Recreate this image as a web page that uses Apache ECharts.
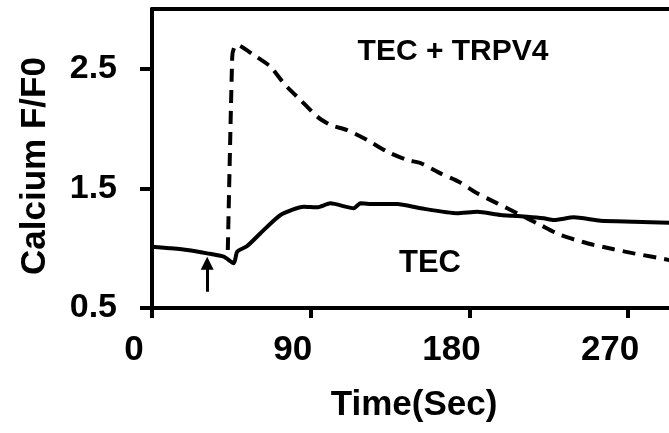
<!DOCTYPE html>
<html>
<head>
<meta charset="utf-8">
<script src="https://cdn.jsdelivr.net/npm/echarts@6/dist/echarts.min.js"></script>
<style>html,body{margin:0;padding:0;background:#fff}#c{width:669px;height:433px}</style>
</head>
<body>
<div id="c"></div>
<script>
// Time (s) and Calcium F/F0 for the TEC trace (solid)
var tecTime = [0, 10, 20, 31.3, 40.7, 46.4, 48.3, 54.0, 61.5, 72.9, 86.1, 93.7, 101.2, 114.4, 118.2, 125.8, 139.1, 152.3, 173.1, 184.4, 197.6, 212.8, 222.2, 227.9, 239.2, 254.3, 273.2, 293.5];
var tecValue = [1.013, 1.0, 0.985, 0.957, 0.929, 0.874, 0.971, 1.018, 1.125, 1.278, 1.347, 1.342, 1.375, 1.334, 1.375, 1.370, 1.370, 1.334, 1.292, 1.305, 1.278, 1.263, 1.250, 1.236, 1.258, 1.230, 1.222, 1.213];
// Time (s) and Calcium F/F0 for the TEC + TRPV4 trace (dashed)
var trpTime = [43.0, 45.5, 46.5, 48.3, 57.7, 67.2, 74.7, 84.2, 93.7, 101.2, 110.7, 122.0, 133.4, 144.7, 152.3, 163.6, 174.0, 184.4, 195.8, 207.1, 220.3, 231.7, 246.8, 261.9, 273.2, 293.5];
var trpValue = [0.985, 2.601, 2.674, 2.699, 2.615, 2.518, 2.379, 2.239, 2.100, 2.030, 1.988, 1.905, 1.807, 1.737, 1.712, 1.626, 1.556, 1.459, 1.375, 1.292, 1.194, 1.110, 1.041, 0.991, 0.957, 0.901];
var xTicks = [0, 90, 180, 270];
var yTicks = [0.5, 1.5, 2.5];
// Stimulus arrow (time, from, to)
var arrowTime = 31.3, arrowFrom = 0.636, arrowTo = 0.874;

function zip(a, b) { return a.map(function (v, i) { return [v, b[i]]; }); }

var FONT = 'Liberation Sans, Arial, sans-serif';
var chart = echarts.init(document.getElementById('c'), null, {renderer: 'canvas'});
chart.setOption({
  animation: false,
  backgroundColor: '#fff',
  grid: {left: 152, top: 9, right: 0, height: 299, containLabel: false},
  xAxis: [{
    type: 'value', min: 0, max: 293.2, interval: 90,
    axisLine: {show: true, lineStyle: {color: '#000', width: 4}},
    axisTick: {show: true, customValues: xTicks, length: 10, lineStyle: {color: '#000', width: 4}},
    axisLabel: {customValues: xTicks, color: '#000', fontFamily: FONT, fontWeight: 'bold', fontSize: 35, margin: 25, padding: [0, 36, 0, 0]},
    splitLine: {show: false}
  }, {
    type: 'value', position: 'top', min: 0, max: 293.2,
    axisLine: {show: true, lineStyle: {color: '#000', width: 4}},
    axisTick: {show: false}, axisLabel: {show: false}, splitLine: {show: false}
  }],
  yAxis: {
    type: 'value', min: 0.5, max: 3.0,
    axisLine: {show: true, lineStyle: {color: '#000', width: 4}},
    axisTick: {show: true, customValues: yTicks, length: 12, lineStyle: {color: '#000', width: 4}},
    axisLabel: {customValues: yTicks, color: '#000', fontFamily: FONT, fontWeight: 'bold', fontSize: 34, margin: 35, formatter: function (v) { return v.toFixed(1); }},
    splitLine: {show: false}
  },
  series: [
    {
      name: 'TEC', type: 'line', data: zip(tecTime, tecValue), symbol: 'none', smooth: 0.2,
      lineStyle: {color: '#000', width: 4}, z: 3,
      markLine: {
        silent: true, symbol: ['none', 'triangle'], symbolSize: [13, 13],
        lineStyle: {color: '#000', width: 3, type: 'solid'}, label: {show: false},
        data: [[{coord: [arrowTime, arrowFrom]}, {coord: [arrowTime, arrowTo]}]]
      }
    },
    {
      name: 'TEC + TRPV4', type: 'line', data: zip(trpTime, trpValue), symbol: 'none', smooth: 0.2,
      lineStyle: {color: '#000', width: 4, type: [13, 8]}, z: 2
    }
  ],
  graphic: [
    {type: 'text', x: 453, y: 52, style: {text: 'TEC + TRPV4', font: 'bold 30px ' + FONT, fill: '#000', align: 'center', verticalAlign: 'middle'}},
    {type: 'text', x: 430, y: 263, style: {text: 'TEC', font: 'bold 31px ' + FONT, fill: '#000', align: 'center', verticalAlign: 'middle'}},
    {type: 'text', x: 414, y: 405, style: {text: 'Time(Sec)', font: 'bold 35px ' + FONT, fill: '#000', align: 'center', verticalAlign: 'middle'}},
    {type: 'text', x: 35, y: 166, rotation: Math.PI / 2, style: {text: 'Calcium F/F0', font: 'bold 35px ' + FONT, fill: '#000', align: 'center', verticalAlign: 'middle'}}
  ]
});
</script>
</body>
</html>
